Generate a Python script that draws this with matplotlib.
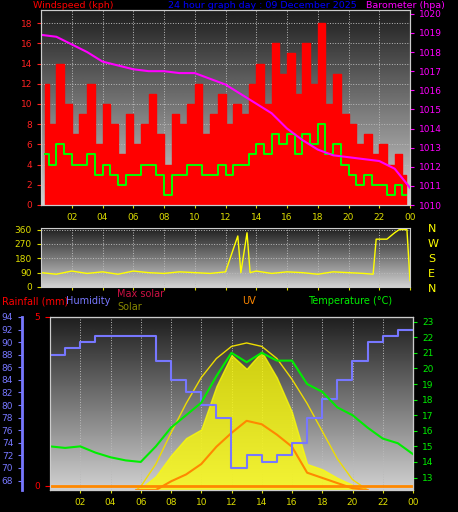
import numpy as np
import matplotlib
matplotlib.use("Agg")
import matplotlib.pyplot as plt

# ---- data ----
half_hours = np.arange(0, 24.01, 0.5)[:48] + 0.25
gust = [12, 8, 14, 10, 7, 9, 12, 6, 10, 8, 5, 9, 6, 8, 11, 7, 4, 9, 8, 10, 12, 7, 9, 11,
        8, 10, 9, 12, 14, 10, 16, 13, 15, 11, 16, 12, 18, 10, 13, 9, 8, 6, 7, 5, 6, 4, 5, 3]
wind_avg = [5, 4, 6, 5, 4, 4, 5, 3, 4, 3, 2, 3, 3, 4, 4, 3, 1, 3, 3, 4, 4, 3, 3, 4,
            3, 4, 4, 5, 6, 5, 7, 6, 7, 5, 7, 6, 8, 5, 6, 4, 3, 2, 3, 2, 2, 1, 2, 1]

hours = np.arange(0, 25)
baro = [1018.9, 1018.8, 1018.4, 1018.0, 1017.5, 1017.3, 1017.1, 1017.0, 1017.0, 1016.9, 1016.9,
        1016.6, 1016.3, 1015.8, 1015.3, 1014.8, 1014.0, 1013.4, 1012.9, 1012.6, 1012.5,
        1012.4, 1012.3, 1011.9, 1010.9]

dir_hours = [0, 1, 2, 3, 4, 5, 6, 7, 8, 9, 10, 11, 12, 12.8, 13, 13.4, 13.6, 14, 15, 16,
             17, 18, 19, 20, 21, 21.6, 21.8, 22.5, 23, 23.3, 23.8, 24]
wind_dir = [90, 80, 100, 85, 95, 80, 100, 90, 85, 95, 90, 85, 95, 320, 90, 340, 90, 100, 85, 95,
            90, 80, 95, 90, 85, 80, 300, 300, 340, 360, 360, 40]

humidity = [88, 89, 90, 91, 91, 91, 91, 87, 84, 82, 80, 78, 70, 72, 71, 72, 74, 78, 81, 84,
            87, 90, 91, 92, 92]
temperature = [15.0, 14.9, 15.0, 14.6, 14.3, 14.1, 14.0, 15.0, 16.2, 17.0, 17.8, 19.5, 21.0,
               20.4, 21.0, 20.5, 20.5, 19.0, 18.5, 17.5, 17.0, 16.2, 15.5, 15.2, 14.5]

sun_hours = [5.7, 6, 7, 8, 9, 10, 11, 12, 13, 14, 15, 16, 17, 18, 19, 20, 21]
max_solar = [0, 20, 150, 330, 500, 650, 760, 830, 850, 830, 760, 640, 500, 340, 180, 60, 0]
solar = [0, 10, 80, 200, 300, 350, 600, 780, 700, 800, 650, 450, 150, 120, 70, 30, 0]
uv = [0, 0, 0, 50, 90, 150, 250, 330, 400, 380, 320, 250, 100, 70, 40, 10, 0]

xticks = list(range(2, 25, 2))
xlabels = ["%02d" % (h % 24) for h in xticks]

W, H = 458, 512
fig = plt.figure(figsize=(W / 100, H / 100), dpi=100, facecolor="black")
plt.rcParams["font.family"] = "DejaVu Sans"
FS = 6.5


def panel(l, t, r, b):
    ax = fig.add_axes([l / W, 1 - b / H, (r - l) / W, (b - t) / H])
    grad = np.linspace(0.12, 0.82, 256)[:, None]
    ax.imshow(grad, cmap="gray", vmin=0, vmax=1, aspect="auto",
              extent=[0, 1, 0, 1], transform=ax.transAxes, zorder=0)
    ax.set_xlim(0, 24)
    ax.grid(True, color="#bbbbbb", ls=":", lw=0.7)
    for s in ax.spines.values():
        s.set_color("#cccccc")
    ax.tick_params(colors="#dddd00", labelsize=FS, length=2)
    return ax


def style_axis(ax, color):
    ax.tick_params(axis="y", colors=color, labelsize=FS, length=3)
    for s in ax.spines.values():
        s.set_color("#cccccc")


# ---- top: wind and barometer ----
ax1 = panel(41, 10, 410, 205)
ax1.fill_between(half_hours, gust, step="mid", color="#ff0000", zorder=2)
ax1.step(half_hours, wind_avg, where="mid", color="#00ff00", lw=1.4, zorder=3)
ax1.set_ylim(0, 19.3)
ax1.set_yticks(range(0, 19, 2))
ax1.set_xticks(xticks)
ax1.set_xticklabels(xlabels)
style_axis(ax1, "#ff2222")
ax1b = ax1.twinx()
ax1b.plot(hours, baro, color="#ff00ff", lw=1.5)
ax1b.set_ylim(1010, 1020.2)
ax1b.set_yticks(range(1010, 1021))
style_axis(ax1b, "#ff00ff")
fig.text(33 / W, 1 - 8 / H, "Windspeed (kph)", color="#ff0000", fontsize=6.8)
fig.text(168 / W, 1 - 8 / H, "24 hour graph day : 09 December 2025", color="#0000ff", fontsize=6.8)
fig.text(366 / W, 1 - 8 / H, "Barometer (hpa)", color="#ff00ff", fontsize=6.8)

# ---- middle: wind direction ----
ax2 = panel(41, 228, 410, 287)
ax2.plot(dir_hours, wind_dir, color="#ffff00", lw=1)
ax2.set_ylim(0, 370)
ax2.set_yticks([0, 90, 180, 270, 360])
ax2.set_xticks(xticks)
ax2.set_xticklabels([])
style_axis(ax2, "#dddd00")
for i, c in enumerate("NWSEN"):
    fig.text(428 / W, 1 - (229 + i * 15) / H, c, color="#ffff00", fontsize=8, va="center")

# ---- bottom: rain, humidity, solar, uv, temperature ----
ax3 = panel(50, 317, 413, 490)
ax3.set_ylim(0, 1000)
ax3.set_yticks([])
ax3.fill_between(sun_hours, solar, color="#ffff00", alpha=0.75, zorder=2)
ax3.plot(sun_hours, max_solar, color="#eedd00", lw=1, zorder=3)
ax3.plot(sun_hours, uv, color="#ff8800", lw=1.5, zorder=4)
ax3.axhline(25, color="#ff8800", lw=2, zorder=4)
ax3.set_xticks(xticks)
ax3.set_xticklabels(xlabels)

axh = ax3.twinx()
axh.plot(hours, humidity, color="#7777ff", lw=1.5, drawstyle="steps-post")
axh.set_ylim(66.5, 94)
axh.set_yticks(range(68, 95, 2))
axh.yaxis.set_ticks_position("left")
axh.spines["left"].set_position(("outward", 20))
style_axis(axh, "#7777ff")
axh.spines["left"].set_color("#7777ff")
axh.spines["left"].set_linewidth(2)

axr = ax3.twinx()
axr.set_ylim(-0.12, 5)
axr.set_yticks([0, 5])
axr.yaxis.set_ticks_position("left")
axr.tick_params(axis="y", colors="#ff0000", labelsize=FS)
axr.set_frame_on(False)

axt = ax3.twinx()
axt.plot(hours, temperature, color="#00ee00", lw=1.5)
axt.set_ylim(12.2, 23.3)
axt.set_yticks(range(13, 24))
style_axis(axt, "#00ee00")

fig.text(2 / W, 1 - 304 / H, "Rainfall (mm)", color="#ff0000", fontsize=7)
fig.text(66 / W, 1 - 304 / H, "Humidity", color="#7777ff", fontsize=7)
fig.text(117 / W, 1 - 297 / H, "Max solar", color="#cc1144", fontsize=7)
fig.text(117 / W, 1 - 310 / H, "Solar", color="#888800", fontsize=7)
fig.text(242 / W, 1 - 304 / H, "UV", color="#ff8800", fontsize=7)
fig.text(308 / W, 1 - 304 / H, "Temperature (°C)", color="#00ee00", fontsize=7)

fig.savefig("out.png", dpi=100, facecolor="black")
